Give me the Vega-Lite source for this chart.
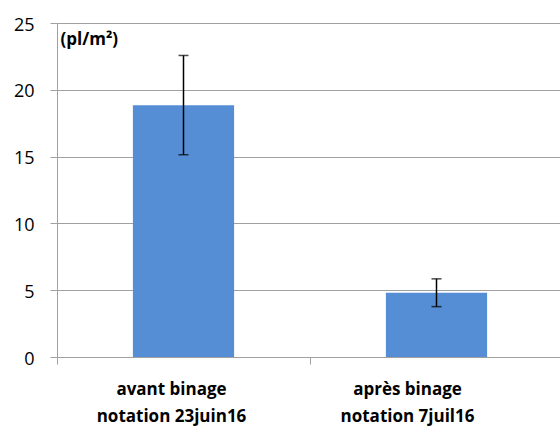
{
  "$schema": "https://vega.github.io/schema/vega-lite/v6.json",
  "width": 503,
  "height": 334,
  "autosize": "none",
  "padding": {"left": 57, "top": 23, "right": 0, "bottom": 71},
  "background": "white",
  "config": {
    "view": {"stroke": null},
    "font": "Open Sans"
  },
  "data": {
    "values": [
      {"cat": "avant binage|notation 23juin16", "val": 18.84, "lo": 15.14, "hi": 22.57},
      {"cat": "après binage|notation 7juil16", "val": 4.81, "lo": 3.77, "hi": 5.85}
    ]
  },
  "encoding": {
    "x": {
      "field": "cat",
      "type": "nominal",
      "sort": null,
      "scale": {"range": [0, 506], "paddingInner": 0.6, "paddingOuter": 0.3},
      "axis": {
        "title": null,
        "labelAngle": 0,
        "labelExpr": "split(datum.label, '|')",
        "labelFont": "Open Sans",
        "labelFontWeight": "bold",
        "labelFontSize": 17,
        "labelLineHeight": 27,
        "labelColor": "#000000",
        "labelPadding": 17,
        "labelOffset": {"condition": {"test": "datum.value === 'après binage|notation 7juil16'", "value": 97}, "value": 114},
        "tickOffset": -126.5,
        "tickSize": 7,
        "tickColor": "#A0A0A0",
        "domainColor": "#A0A0A0",
        "grid": false
      }
    }
  },
  "layer": [
    {
      "mark": {"type": "bar", "color": "#558ED5"},
      "encoding": {
        "y": {
          "field": "val",
          "type": "quantitative",
          "scale": {"domain": [0, 25], "padding": 0, "nice": false, "zero": true},
          "axis": {
            "values": [0, 5, 10, 15, 20, 25],
            "title": "(pl/m²)",
            "titleAngle": 0,
            "titleAlign": "left",
            "titleBaseline": "alphabetic",
            "titleX": 3,
            "titleY": 21,
            "titleFont": "Open Sans",
            "titleFontWeight": "bold",
            "titleFontSize": 17,
            "titleColor": "#000000",
            "labelFont": "Open Sans",
            "labelFontSize": 18,
            "labelColor": "#000000",
            "labelPadding": 16,
            "labelFlush": false,
            "labelBaseline": "middle",
            "labelOffset": 2,
            "tickSize": 7,
            "tickColor": "#A0A0A0",
            "domainColor": "#A0A0A0",
            "gridColor": "#A0A0A0",
            "gridWidth": 1.2
          }
        }
      }
    },
    {
      "mark": {"type": "rule", "color": "#000000", "strokeWidth": 1.5},
      "encoding": {
        "y": {"field": "lo", "type": "quantitative"},
        "y2": {"field": "hi"}
      }
    },
    {
      "mark": {"type": "tick", "color": "#000000", "size": 10, "thickness": 1.5, "orient": "horizontal"},
      "encoding": {"y": {"field": "lo", "type": "quantitative"}}
    },
    {
      "mark": {"type": "tick", "color": "#000000", "size": 10, "thickness": 1.5, "orient": "horizontal"},
      "encoding": {"y": {"field": "hi", "type": "quantitative"}}
    }
  ]
}
